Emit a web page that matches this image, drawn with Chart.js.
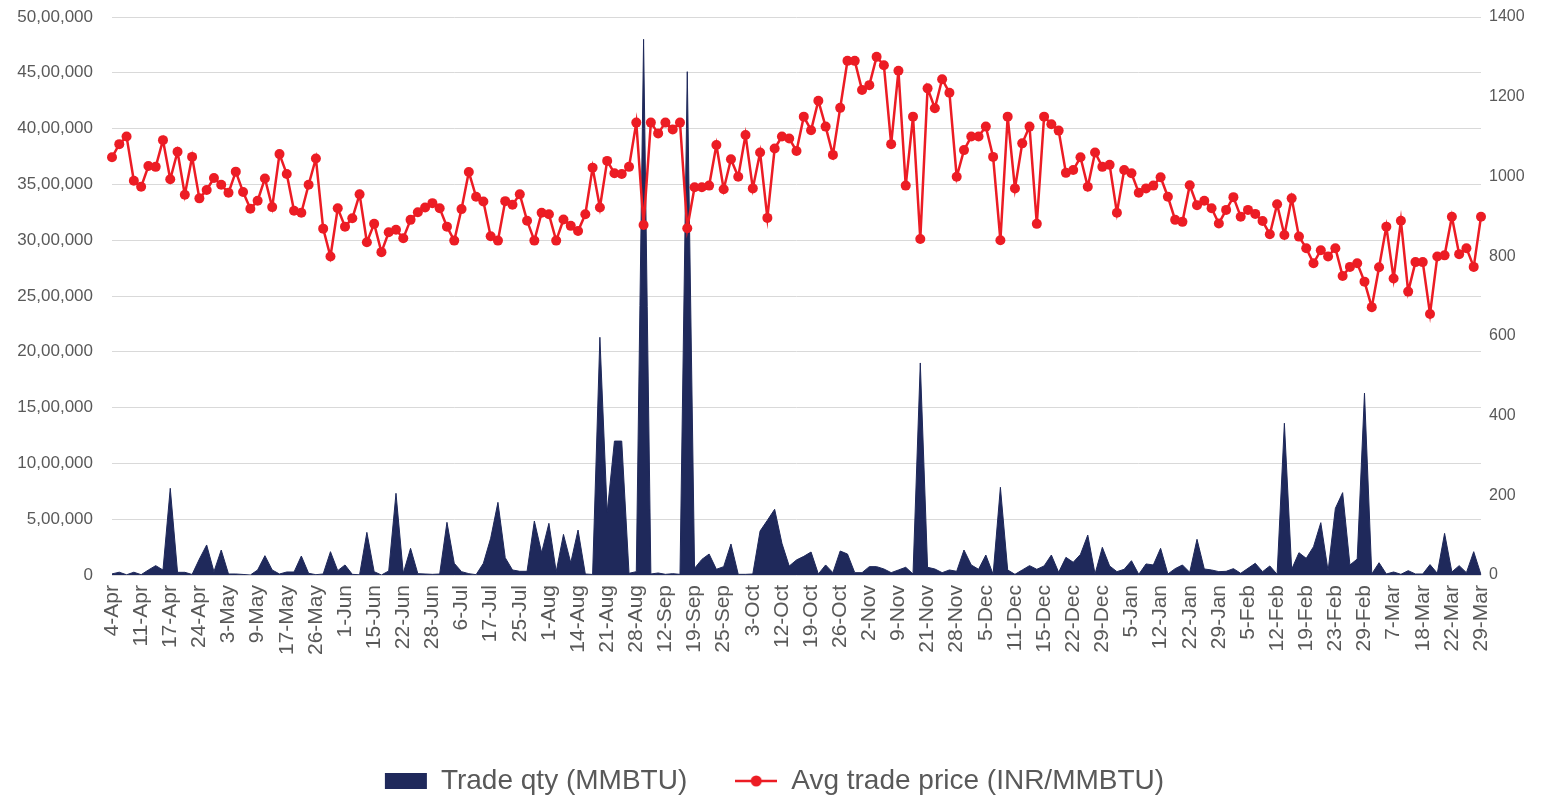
<!DOCTYPE html>
<html>
<head>
<meta charset="utf-8">
<script src="https://cdn.jsdelivr.net/npm/chart.js@4.4.1/dist/chart.umd.min.js"></script>
<style>
  html, body { margin: 0; padding: 0; background: #fff; }
  .cv-frame { width: 1549px; height: 802px; position: relative; }
</style>
</head>
<body>
<div class="cv-frame"><canvas id="chart"></canvas></div>
<script>
// trading days, FY 2023-24 (every 4th one is shown on the axis)
const dates = [
  "4-Apr","5-Apr","6-Apr","10-Apr","11-Apr","12-Apr","13-Apr","14-Apr",
  "17-Apr","18-Apr","20-Apr","21-Apr","24-Apr","26-Apr","28-Apr","2-May",
  "3-May","4-May","5-May","8-May","9-May","11-May","12-May","15-May",
  "17-May","19-May","22-May","24-May","26-May","29-May","30-May","31-May",
  "1-Jun","5-Jun","8-Jun","12-Jun","15-Jun","16-Jun","19-Jun","20-Jun",
  "22-Jun","23-Jun","26-Jun","27-Jun","28-Jun","30-Jun","3-Jul","4-Jul",
  "6-Jul","10-Jul","12-Jul","14-Jul","17-Jul","19-Jul","21-Jul","24-Jul",
  "25-Jul","27-Jul","28-Jul","31-Jul","1-Aug","4-Aug","8-Aug","10-Aug",
  "14-Aug","16-Aug","17-Aug","18-Aug","21-Aug","22-Aug","24-Aug","25-Aug",
  "28-Aug","30-Aug","5-Sep","8-Sep","12-Sep","13-Sep","14-Sep","15-Sep",
  "19-Sep","20-Sep","21-Sep","22-Sep","25-Sep","27-Sep","28-Sep","29-Sep",
  "3-Oct","5-Oct","9-Oct","10-Oct","12-Oct","13-Oct","16-Oct","17-Oct",
  "19-Oct","20-Oct","23-Oct","25-Oct","26-Oct","27-Oct","30-Oct","31-Oct",
  "2-Nov","3-Nov","6-Nov","8-Nov","9-Nov","10-Nov","16-Nov","17-Nov",
  "21-Nov","22-Nov","23-Nov","24-Nov","28-Nov","29-Nov","30-Nov","1-Dec",
  "5-Dec","6-Dec","7-Dec","8-Dec","11-Dec","12-Dec","13-Dec","14-Dec",
  "15-Dec","18-Dec","19-Dec","20-Dec","22-Dec","26-Dec","27-Dec","28-Dec",
  "29-Dec","1-Jan","2-Jan","4-Jan","5-Jan","8-Jan","9-Jan","10-Jan",
  "12-Jan","15-Jan","17-Jan","19-Jan","22-Jan","23-Jan","24-Jan","25-Jan",
  "29-Jan","30-Jan","1-Feb","2-Feb","5-Feb","6-Feb","7-Feb","9-Feb",
  "12-Feb","13-Feb","14-Feb","16-Feb","19-Feb","20-Feb","21-Feb","22-Feb",
  "23-Feb","26-Feb","27-Feb","28-Feb","29-Feb","1-Mar","4-Mar","6-Mar",
  "7-Mar","11-Mar","13-Mar","15-Mar","18-Mar","19-Mar","20-Mar","21-Mar",
  "22-Mar","26-Mar","27-Mar","28-Mar","29-Mar"
];

// Trade qty (MMBTU)
const tradeQty = [
  10000,25000,2000,25000,3000,45000,84000,45000,777000,24000,
  24000,5000,143000,269000,30000,224000,9000,9000,5000,0,
  45000,173000,45000,9000,27000,27000,170000,15000,3000,9000,
  209000,39000,90000,6000,2000,382000,30000,0,36000,732000,
  15000,239000,12000,9000,6000,9000,472000,105000,30000,12000,
  3000,105000,329000,651000,155000,45000,33000,33000,484000,200000,
  463000,30000,364000,110000,403000,9000,5000,2130000,559000,1200000,
  1200000,15000,30000,4800000,9000,18000,6000,12000,6000,4510000,
  60000,140000,188000,51000,75000,278000,6000,6000,9000,394000,
  490000,589000,284000,80000,135000,167000,206000,9000,90000,21000,
  215000,188000,21000,21000,75000,75000,54000,21000,45000,69000,
  9000,1900000,69000,54000,21000,45000,33000,224000,90000,51000,
  179000,6000,786000,45000,6000,45000,84000,51000,81000,179000,
  24000,158000,114000,185000,358000,9000,248000,81000,30000,51000,
  128000,6000,99000,90000,239000,9000,57000,90000,24000,320000,
  54000,45000,30000,33000,57000,15000,60000,105000,30000,81000,
  6000,1360000,51000,200000,149000,254000,469000,36000,597000,738000,
  90000,143000,1630000,9000,110000,9000,27000,6000,39000,9000,
  9000,93000,15000,373000,27000,84000,21000,209000,3000
];

// Avg trade price (INR/MMBTU)
const avgPrice = [
  1048,1081,1100,989,974,1026,1024,1091,993,1062,
  954,1049,945,966,996,979,959,1012,961,919,
  939,995,923,1056,1006,914,909,979,1045,869,
  799,920,874,895,955,835,881,810,860,866,
  845,891,910,922,933,920,874,839,918,1011,
  949,937,850,839,938,929,955,889,839,909,
  905,839,892,876,863,905,1022,922,1039,1008,
  1006,1024,1135,878,1135,1108,1135,1118,1135,870,
  973,973,977,1079,968,1043,999,1104,970,1060,
  896,1070,1100,1095,1064,1150,1116,1190,1125,1054,
  1172,1290,1290,1217,1229,1300,1279,1081,1265,977,
  1150,843,1221,1171,1244,1210,999,1066,1100,1100,
  1125,1049,840,1150,970,1083,1125,881,1150,1131,
  1115,1009,1016,1048,974,1060,1024,1029,909,1016,
  1008,959,970,977,998,949,891,886,978,928,
  939,920,882,916,948,899,916,906,888,855,
  930,853,945,849,820,782,815,799,820,750,
  773,782,736,672,772,874,744,889,711,785,
  785,655,799,802,899,805,820,773,899
];

const NAVY = '#1f295b';
const RED = '#ec1c24';
const GREY_TXT = '#595959';
const FONT = '"Liberation Sans", Arial, sans-serif';

// Indian digit grouping: 50,00,000
function inr(n) {
  const s = String(Math.round(n));
  if (s.length <= 3) return s;
  const last3 = s.slice(-3);
  const rest = s.slice(0, -3).replace(/\B(?=(\d{2})+(?!\d))/g, ',');
  return rest + ',' + last3;
}

// legend marker for the price series: line with a dot
const lineMarker = document.createElement('canvas');
lineMarker.width = 42;
lineMarker.height = 14;
(function () {
  const c = lineMarker.getContext('2d');
  c.strokeStyle = RED;
  c.lineWidth = 2.5;
  c.beginPath();
  c.moveTo(0, 7);
  c.lineTo(42, 7);
  c.stroke();
  c.fillStyle = RED;
  c.beginPath();
  c.arc(21, 7, 5.5, 0, Math.PI * 2);
  c.fill();
})();

// fixed axis width, and keep tick padding from pushing the plot down
function fixY(width) {
  return (scale) => {
    scale.width = width;
    scale.paddingTop = 0;
    scale.paddingBottom = 0;
  };
}

const ctx = document.getElementById('chart').getContext('2d');
new Chart(ctx, {
  type: 'line',
  data: {
    labels: dates,
    datasets: [
      {
        label: 'Trade qty (MMBTU)',
        data: tradeQty,
        yAxisID: 'y',
        fill: 'origin',
        backgroundColor: NAVY,
        borderColor: NAVY,
        borderWidth: 1,
        pointRadius: 0,
        tension: 0,
        order: 1
      },
      {
        label: 'Avg trade price (INR/MMBTU)',
        data: avgPrice,
        yAxisID: 'y1',
        fill: false,
        borderColor: RED,
        backgroundColor: RED,
        borderWidth: 2.5,
        pointRadius: 5,
        pointBorderWidth: 0,
        pointBackgroundColor: RED,
        tension: 0,
        order: 0
      }
    ]
  },
  options: {
    responsive: true,
    maintainAspectRatio: false,
    animation: false,
    layout: { autoPadding: false, padding: { top: 17, left: 0, right: 0, bottom: -3 } },
    plugins: {
      tooltip: { enabled: false },
      legend: {
        position: 'bottom',
        labels: {
          usePointStyle: true,
          pointStyleWidth: 42,
          boxHeight: 16,
          padding: 48,
          color: GREY_TXT,
          font: { family: FONT, size: 28 },
          sort: (a, b) => a.datasetIndex - b.datasetIndex,
          generateLabels: (chart) => chart.data.datasets.map((ds, i) => ({
            text: ds.label,
            datasetIndex: i,
            fillStyle: i === 0 ? NAVY : RED,
            strokeStyle: i === 0 ? NAVY : RED,
            lineWidth: 0,
            fontColor: GREY_TXT,
            pointStyle: i === 0 ? 'rect' : lineMarker,
            hidden: !chart.isDatasetVisible(i)
          }))
        }
      }
    },
    scales: {
      x: {
        grid: { display: false },
        border: { display: false },
        ticks: {
          autoSkip: false,
          minRotation: 90,
          maxRotation: 90,
          padding: 2,
          color: GREY_TXT,
          font: { family: FONT, size: 21 },
          callback: (v, i) => (i % 4 === 0 ? dates[i] : '')
        },
        afterFit: (scale) => {
          scale.height = 144;
          scale.paddingLeft = 0;
          scale.paddingRight = 0;
        }
      },
      y: {
        position: 'left',
        min: 0,
        max: 5000000,
        grid: { color: '#d9d9d9', lineWidth: 1, drawTicks: false },
        border: { display: false },
        ticks: {
          stepSize: 500000,
          padding: 19,
          color: GREY_TXT,
          font: { family: FONT, size: 17 },
          callback: (v) => inr(v)
        },
        afterFit: fixY(112)
      },
      y1: {
        position: 'right',
        min: 0,
        max: 1400,
        grid: { drawOnChartArea: false, drawTicks: false },
        border: { display: false },
        ticks: {
          stepSize: 200,
          padding: 8,
          color: GREY_TXT,
          font: { family: FONT, size: 16 },
          callback: (v) => String(v)
        },
        afterFit: fixY(68)
      }
    }
  }
});
</script>
</body>
</html>
